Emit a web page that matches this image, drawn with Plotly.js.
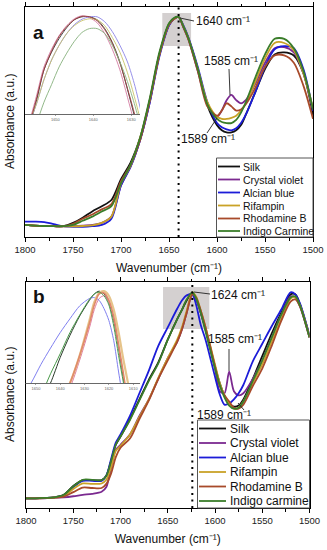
<!DOCTYPE html>
<html><head><meta charset="utf-8">
<script src="https://cdn.plot.ly/plotly-3.0.1.min.js"></script>
<style>html,body{margin:0;padding:0;background:#fff}#chart{width:327px;height:550px}</style>
</head><body><div id="chart"></div>
<script>
// ---------- data ----------
const seriesNamesA = ["Silk","Crystal violet","Alcian blue","Rifampin","Rhodamine B","Indigo Carmine"];
const seriesNamesB = ["Silk","Crystal violet","Alcian blue","Rifampin","Rhodamine B","Indigo carmine"];
const mainTickVals = [1800,1750,1700,1650,1600,1550,1500];
const insetTickValsA = [1650,1640,1630];
const insetTickValsB = [1650,1640,1630,1620,1610];
const peakLabelsA = ["1640 cm\u207B\u00B9","1585 cm\u207B\u00B9","1589 cm\u207B\u00B9"];
const peakLabelsB = ["1624 cm\u207B\u00B9","1585 cm\u207B\u00B9","1589 cm\u207B\u00B9"];
const xTitle = "Wavenumber (cm\u207B\u00B9)";
const markerLineA = 1640;
const markerLineB = 1624;

const wavenumberA = [1800,1790,1780,1770,1760,1750,1740,1730,1720,1710,1700,1690,1680,1670,1660,1650,1645,1640,1635,1630,1620,1610,1600,1595,1590,1585,1580,1575,1570,1560,1550,1540,1530,1520,1510,1500];
const silkA          = [0.0,-0.003,-0.005,-0.006,-0.006,0.01,0.035,0.065,0.09,0.12,0.22,0.30,0.42,0.60,0.82,0.965,0.99,1.0,0.955,0.90,0.75,0.575,0.48,0.455,0.445,0.445,0.455,0.48,0.53,0.64,0.75,0.82,0.83,0.815,0.73,0.53];
const crystalVioletA = [0.0,-0.003,-0.005,-0.006,-0.007,-0.006,-0.004,0.0,0.01,0.04,0.19,0.28,0.41,0.59,0.82,0.96,0.99,1.0,0.95,0.895,0.74,0.58,0.52,0.55,0.60,0.625,0.60,0.585,0.60,0.68,0.78,0.85,0.855,0.83,0.73,0.55];
const alcianBlueA    = [0.016,0.016,0.014,0.004,-0.006,-0.009,-0.009,-0.006,0.0,0.03,0.19,0.28,0.41,0.59,0.81,0.96,0.99,1.0,0.96,0.905,0.76,0.59,0.49,0.47,0.46,0.455,0.465,0.49,0.53,0.64,0.76,0.845,0.86,0.85,0.75,0.55];
const rifampinA      = [0.0,-0.003,-0.005,-0.006,-0.007,-0.007,-0.005,-0.002,0.01,0.04,0.20,0.285,0.42,0.60,0.82,0.965,0.99,1.0,0.955,0.90,0.75,0.59,0.52,0.51,0.51,0.515,0.525,0.55,0.585,0.69,0.80,0.875,0.875,0.84,0.73,0.56];
const rhodamineBA    = [0.0,-0.003,-0.005,-0.006,-0.006,0.005,0.03,0.05,0.075,0.10,0.21,0.29,0.41,0.60,0.82,0.965,0.99,1.0,0.95,0.895,0.74,0.57,0.525,0.55,0.585,0.57,0.55,0.555,0.58,0.66,0.76,0.815,0.815,0.78,0.67,0.51];
const indigoCarmineA = [0.0,-0.003,-0.005,-0.006,-0.006,0.0,0.02,0.04,0.065,0.09,0.20,0.29,0.42,0.61,0.83,0.97,0.995,1.0,0.955,0.90,0.75,0.58,0.51,0.495,0.49,0.49,0.505,0.54,0.59,0.71,0.82,0.895,0.895,0.85,0.74,0.555];

const wavenumberB = [1800,1790,1780,1770,1760,1750,1740,1730,1720,1715,1710,1705,1700,1690,1680,1670,1660,1650,1640,1635,1630,1624,1620,1615,1610,1600,1595,1590,1585,1580,1575,1570,1560,1550,1540,1530,1520,1515,1510,1500];
const silkB          = [0.0,0.0,0.002,0.005,0.017,0.06,0.088,0.088,0.088,0.11,0.18,0.26,0.30,0.385,0.48,0.575,0.66,0.77,0.87,0.915,0.96,1.0,0.97,0.9,0.82,0.64,0.56,0.5,0.46,0.445,0.45,0.48,0.58,0.69,0.80,0.90,0.99,0.99,0.94,0.79];
const crystalVioletB = [0.0,0.0,0.0,0.003,0.005,0.01,0.017,0.022,0.032,0.055,0.15,0.235,0.26,0.31,0.40,0.48,0.58,0.68,0.76,0.82,0.9,0.99,0.965,0.9,0.82,0.63,0.52,0.51,0.615,0.52,0.50,0.51,0.58,0.67,0.78,0.89,0.98,0.975,0.93,0.78];
const alcianBlueB    = [0.0,0.0,0.002,0.005,0.015,0.055,0.085,0.085,0.085,0.11,0.19,0.27,0.31,0.40,0.51,0.62,0.74,0.83,0.92,0.96,0.985,0.99,0.94,0.84,0.77,0.59,0.505,0.455,0.46,0.48,0.51,0.55,0.665,0.75,0.835,0.915,1.0,0.99,0.945,0.79];
const rifampinB      = [0.0,0.0,0.002,0.004,0.012,0.045,0.072,0.07,0.072,0.09,0.15,0.23,0.255,0.31,0.395,0.48,0.585,0.68,0.77,0.83,0.91,1.0,0.98,0.91,0.83,0.65,0.56,0.5,0.46,0.435,0.44,0.47,0.56,0.65,0.76,0.87,0.97,0.975,0.935,0.785];
const rhodamineBB    = [0.0,0.0,0.001,0.003,0.008,0.03,0.052,0.05,0.05,0.07,0.12,0.2,0.245,0.29,0.385,0.475,0.58,0.67,0.76,0.82,0.9,0.99,0.975,0.91,0.83,0.64,0.545,0.50,0.47,0.44,0.435,0.455,0.545,0.63,0.74,0.86,0.955,0.965,0.93,0.78];
const indigoCarmineB = [0.0,0.0,0.002,0.005,0.017,0.058,0.09,0.09,0.088,0.11,0.18,0.26,0.30,0.38,0.475,0.57,0.655,0.77,0.87,0.915,0.965,1.0,0.97,0.9,0.81,0.63,0.55,0.49,0.45,0.435,0.44,0.47,0.57,0.67,0.78,0.89,0.975,0.98,0.935,0.78];

// insets (zoomed peak region, rescaled)
const insetWavenumberA = [1659,1657,1655,1653,1651,1649,1647,1645,1643,1641,1639,1637,1635,1633,1631,1629,1627];
const silkInsetA          = [-0.4,-0.15,0.13,0.45,0.63,0.77,0.88,0.96,0.99,0.99,0.96,0.87,0.73,0.53,0.25,-0.05,-0.4];
const crystalVioletInsetA = [-0.35,-0.1,0.18,0.48,0.66,0.80,0.90,0.97,1.0,0.98,0.93,0.82,0.66,0.45,0.17,-0.12,-0.45];
const alcianBlueInsetA    = [-0.4,-0.12,0.1,0.35,0.55,0.70,0.82,0.91,0.965,0.99,0.99,0.94,0.84,0.70,0.53,0.28,-0.05];
const rifampinInsetA      = [-0.35,-0.1,0.1,0.35,0.55,0.70,0.82,0.90,0.95,0.97,0.96,0.90,0.78,0.63,0.42,0.15,-0.15];
const rhodamineBInsetA    = [-0.38,-0.12,0.15,0.45,0.64,0.79,0.89,0.96,0.995,0.99,0.95,0.86,0.72,0.52,0.26,-0.02,-0.35];
const indigoCarmineInsetA = [-0.5,-0.3,-0.1,0.12,0.30,0.48,0.62,0.74,0.83,0.87,0.87,0.82,0.70,0.53,0.33,0.08,-0.2];

const insetWavenumberB = [1656,1652,1648,1644,1640,1636,1632,1628,1626,1624,1622,1620,1618,1616,1614,1612,1610];
const silkInsetB          = [-0.7,-0.45,-0.2,0.0,0.28,0.52,0.73,0.90,0.97,1.0,0.97,0.88,0.68,0.38,0.05,-0.3,-0.6];
const crystalVioletInsetB = [-1.0,-0.8,-0.6,-0.4,-0.22,-0.05,0.25,0.60,0.80,0.92,0.95,0.88,0.70,0.40,0.08,-0.25,-0.55];
const alcianBlueInsetB    = [-0.15,0.0,0.2,0.38,0.55,0.70,0.84,0.92,0.93,0.90,0.81,0.68,0.46,0.12,-0.2,-0.5,-0.8];
const rifampinInsetB      = [-1.0,-0.8,-0.6,-0.4,-0.2,0.0,0.3,0.68,0.88,0.98,1.0,0.95,0.80,0.55,0.25,-0.02,-0.3];
const rhodamineBInsetB    = [-1.0,-0.8,-0.6,-0.4,-0.2,0.0,0.3,0.65,0.85,0.97,0.98,0.90,0.72,0.42,0.1,-0.25,-0.55];
const indigoCarmineInsetB = [-0.65,-0.4,-0.15,0.1,0.32,0.55,0.74,0.91,0.97,0.99,0.95,0.85,0.62,0.30,0.0,-0.3,-0.6];

// ---------- styles ----------
const FONT = "Liberation Sans, Arial, sans-serif";
const mainColors  = ["#111111","#7b2a90","#1c1cd8","#c9a227","#a84a2a","#3a7d2a"];
const insetColorsA = ["#333333","#d47aa0","#8c84e6","#c8c46a","#9a3b3b","#86b07c"];
const insetColorsB = ["#2a3a2a","#e07aa0","#8080f0","#e6c48a","#e08a6a","#4a9a4a"];
const insetWidthsB = [1,1,1,2.2,1.6,1];

const W = 327, H = 550;
const P = x => x / W;          // pixel -> paper x
const Q = y => 1 - y / H;      // pixel -> paper y

const seriesA = [silkA, crystalVioletA, alcianBlueA, rifampinA, rhodamineBA, indigoCarmineA];
const seriesB = [silkB, crystalVioletB, alcianBlueB, rifampinB, rhodamineBB, indigoCarmineB];
const insetA = [silkInsetA, crystalVioletInsetA, alcianBlueInsetA, rifampinInsetA, rhodamineBInsetA, indigoCarmineInsetA];
const insetB = [silkInsetB, crystalVioletInsetB, alcianBlueInsetB, rifampinInsetB, rhodamineBInsetB, indigoCarmineInsetB];

const traces = [];
seriesA.forEach((ys, i) => traces.push({x: wavenumberA, y: ys, name: seriesNamesA[i], type: "scatter", mode: "lines",
  line: {color: mainColors[i], width: 1.8, shape: "spline", smoothing: 0.8}, xaxis: "x", yaxis: "y", showlegend: false, hoverinfo: "skip"}));
seriesB.forEach((ys, i) => traces.push({x: wavenumberB, y: ys, name: seriesNamesB[i], type: "scatter", mode: "lines",
  line: {color: mainColors[i], width: 1.8, shape: "spline", smoothing: 0.8}, xaxis: "x2", yaxis: "y2", showlegend: false, hoverinfo: "skip"}));
insetA.forEach((ys, i) => traces.push({x: insetWavenumberA, y: ys, name: seriesNamesA[i], type: "scatter", mode: "lines",
  line: {color: insetColorsA[i], width: 0.9, shape: "spline", smoothing: 0.8}, xaxis: "x3", yaxis: "y3", showlegend: false, hoverinfo: "skip"}));
insetB.forEach((ys, i) => traces.push({x: insetWavenumberB, y: ys, name: seriesNamesB[i], type: "scatter", mode: "lines",
  line: {color: insetColorsB[i], width: insetWidthsB[i], shape: "spline", smoothing: 0.8}, xaxis: "x4", yaxis: "y4", showlegend: false, hoverinfo: "skip"}));

function mainX(domain, anchor) {
  return {domain: domain, anchor: anchor, range: [1800, 1500], tickmode: "array", tickvals: mainTickVals,
    ticks: "outside", ticklen: 4, tickwidth: 1, tickcolor: "#000", showline: true, linecolor: "#000", linewidth: 1,
    mirror: "ticks", showgrid: false, zeroline: false,
    minor: {tickmode: "linear", tick0: 1500, dtick: 25, ticks: "outside", ticklen: 2.5, tickcolor: "#000", showgrid: false},
    tickfont: {family: FONT, size: 9.5, color: "#222"},
    title: {text: xTitle, font: {family: FONT, size: 12, color: "#111"}, standoff: 9}};
}
function mainY(domain, anchor, range) {
  return {domain: domain, anchor: anchor, range: range, showline: true, linecolor: "#000", linewidth: 1, mirror: true,
    ticks: "", showticklabels: false, showgrid: false, zeroline: false};
}
function insetX(domain, anchor, range, vals) {
  return {domain: domain, anchor: anchor, range: range, tickmode: "array", tickvals: vals,
    ticks: "outside", ticklen: 1.5, tickwidth: 0.6, tickcolor: "#666", showline: true, linecolor: "#444", linewidth: 0.8,
    showgrid: false, zeroline: false, tickfont: {family: FONT, size: 4, color: "#666"}};
}
function insetY(domain, anchor, range) {
  return {domain: domain, anchor: anchor, range: range, visible: false, showgrid: false, zeroline: false};
}

const shapes = [];
const annotations = [];

// gray zoom boxes
shapes.push({type: "rect", xref: "x", yref: "y", x0: 1657, x1: 1627, y0: 0.86, y1: 1.019, fillcolor: "#d4d0d0", line: {width: 0}, layer: "below"});
shapes.push({type: "rect", xref: "x2", yref: "y2", x0: 1655, x1: 1606, y0: 0.822, y1: 1.026, fillcolor: "#d4d0d0", line: {width: 0}, layer: "below"});
// dotted marker lines
shapes.push({type: "line", xref: "x", yref: "y domain", x0: markerLineA, x1: markerLineA, y0: 0, y1: 1, line: {color: "#000", width: 2, dash: "2px,4.5px"}});
shapes.push({type: "line", xref: "x2", yref: "y2 domain", x0: markerLineB, x1: markerLineB, y0: 0, y1: 1, line: {color: "#000", width: 2, dash: "2px,4.5px"}});

// leader lines (pixel positions)
const pxLine = (x0, y0, x1, y1) => shapes.push({type: "line", xref: "paper", yref: "paper", x0: P(x0), y0: Q(y0), x1: P(x1), y1: Q(y1), line: {color: "#222", width: 0.9}});
pxLine(180, 18, 194, 21);
pxLine(229, 69, 230, 95);
pxLine(207, 133, 217, 118);
pxLine(194, 292, 210, 294);
pxLine(229, 349, 229, 371);
pxLine(244, 410, 238, 403);

// peak label annotations
const txt = (text, x, y, size, extra) => annotations.push(Object.assign({text: text, xref: "paper", yref: "paper", x: P(x), y: Q(y),
  showarrow: false, xanchor: "left", yanchor: "middle", font: {family: FONT, size: size, color: "#111"}}, extra || {}));
txt(peakLabelsA[0], 194, 21, 12);
txt(peakLabelsA[1], 202, 61, 12);
txt(peakLabelsA[2], 179, 139, 12);
txt(peakLabelsB[0], 209, 295, 12);
txt(peakLabelsB[1], 206, 339, 12);
txt(peakLabelsB[2], 195, 414.5, 12);

// panel letters
txt("<b>a</b>", 31, 32, 19);
txt("<b>b</b>", 31, 296, 19);

// y titles
annotations.push({text: "Absorbance (a.u.)", xref: "paper", yref: "paper", x: P(10), y: Q(122), textangle: -90, showarrow: false,
  xanchor: "center", yanchor: "middle", font: {family: FONT, size: 12, color: "#111"}});
annotations.push({text: "Absorbance (a.u.)", xref: "paper", yref: "paper", x: P(10), y: Q(395), textangle: -90, showarrow: false,
  xanchor: "center", yanchor: "middle", font: {family: FONT, size: 12, color: "#111"}});

// manual legends
function legend(names, box, rows, lineX, textX, size) {
  shapes.push({type: "rect", xref: "paper", yref: "paper", x0: P(box[0]), x1: P(box[2]), y0: Q(box[3]), y1: Q(box[1]),
    line: {color: "#555", width: 1}, fillcolor: "rgba(255,255,255,0)"});
  names.forEach((n, i) => {
    shapes.push({type: "line", xref: "paper", yref: "paper", x0: P(lineX[0]), x1: P(lineX[1]), y0: Q(rows[i]), y1: Q(rows[i]),
      line: {color: mainColors[i], width: 1.8}});
    txt(n, textX, rows[i], size);
  });
}
legend(seriesNamesA, [216.5, 158, 313, 237], [166.5, 179.5, 192.5, 205.5, 218.5, 231], [218, 240], 241, 10.5);
legend(seriesNamesB, [197.5, 420, 309.5, 508], [428.5, 443, 457.5, 472, 486.5, 501], [199, 226], 228, 12);

const layout = {
  width: W, height: H, margin: {l: 0, r: 0, t: 0, b: 0}, paper_bgcolor: "#fff", plot_bgcolor: "rgba(0,0,0,0)",
  font: {family: FONT}, showlegend: false,
  xaxis: mainX([P(25), P(313)], "y"),
  yaxis: mainY([Q(237), Q(7)], "x", [-0.058, 1.048]),
  xaxis2: mainX([P(26), P(309.5)], "y2"),
  yaxis2: mainY([Q(508), Q(282)], "x2", [-0.047, 1.05]),
  xaxis3: insetX([P(25), P(140)], "y3", [1658, 1627.7], insetTickValsA),
  yaxis3: insetY([Q(114), Q(7)], "x3", [0, 1.09]),
  xaxis4: insetX([P(25), P(140)], "y4", [1654.5, 1607.2], insetTickValsB),
  yaxis4: insetY([Q(383), Q(282)], "x4", [0, 1.1]),
  shapes: shapes, annotations: annotations
};
Plotly.newPlot("chart", traces, layout, {staticPlot: true, displayModeBar: false});
</script></body></html>
